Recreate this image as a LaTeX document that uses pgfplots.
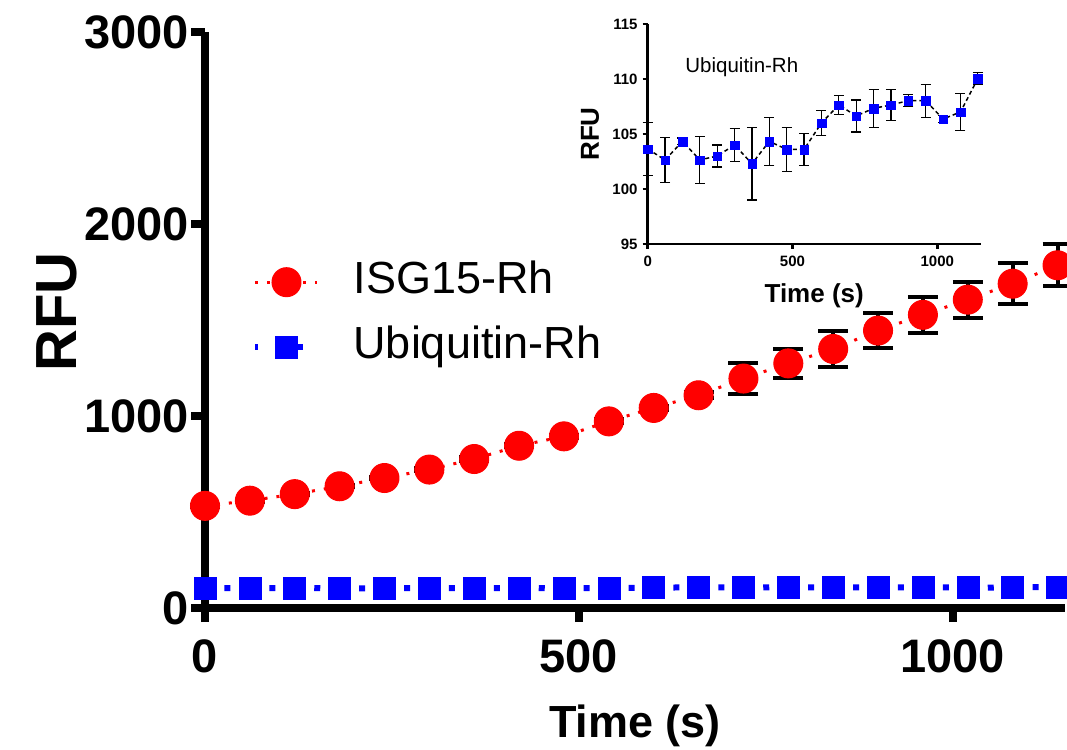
\documentclass[border=0pt]{standalone}
\usepackage{fontspec}
\setmainfont{Liberation Sans}
\usepackage{pgfplots}
\usepackage{pgfplotstable}
\pgfplotsset{compat=1.18}

\pgfplotstableread{
x y e
0 532 4
60 559 5
120 593 5
180 634 6
240 677 6
300 721 7
360 776 8
420 845 8
480 894 9
540 972 10
600 1042 12
660 1108 15
720 1195 79
780 1274 77
840 1349 92
900 1445 89
960 1527 94
1020 1606 94
1080 1689 106
1140 1785 109
}\isgdata

\pgfplotstableread{
x y e
0 103.64 2.4
60 102.64 2.05
120 104.33 0.3
180 102.64 2.15
240 103.0 1.0
300 104.0 1.5
360 102.3 3.3
420 104.33 2.2
480 103.6 2.0
540 103.6 1.45
600 106.0 1.17
660 107.64 0.88
720 106.64 1.45
780 107.33 1.74
840 107.64 1.42
900 108.03 0.53
960 108.03 1.5
1020 106.36 0.3
1080 107.0 1.7
1140 110.03 0.53
}\ubdata

\begin{document}
\begin{tikzpicture}
\path[use as bounding box] (0pt,0pt) rectangle (1067pt,749pt);
\begin{axis}[
  at={(205pt,141pt)}, anchor=south west, scale only axis,
  width=860pt, height=576pt,
  xmin=0, xmax=1150, ymin=0, ymax=3000, clip=false,
  axis x line*=bottom, axis y line*=left,
  axis line style={line width=8pt,-},
  xtick={0,500,1000}, ytick={0,1000,2000,3000},
  tick style={line width=8pt, black}, major tick length=14pt, tick align=outside,
  minor tick num=0,
  /pgf/number format/assume math mode=true, /pgf/number format/1000 sep={}, scaled ticks=false,
  ticklabel style={font=\bfseries\fontsize{47}{47}\selectfont, inner sep=1pt},
  xticklabel style={yshift=-16pt},
  yticklabel style={xshift=-1pt},
  xlabel={Time (s)}, ylabel={RFU},
  xlabel style={font=\bfseries\fontsize{45}{45}\selectfont, at={(axis description cs:0.5,-0.205)}, anchor=center},
  ylabel style={font=\bfseries\fontsize{58}{58}\selectfont, at={(axis description cs:-0.172,0.514)}, anchor=center},
  legend style={draw=none, fill=none, at={(axis description cs:0.055,0.6224)}, anchor=north west,
     inner sep=0pt, font=\fontsize{45}{45}\selectfont, row sep=0pt,
     nodes={inner xsep=15pt, inner ysep=11pt, text height=33pt, text depth=10pt}},
  legend cell align=left,
  legend image code/.code={\draw[mark repeat=2,mark phase=2,#1] plot coordinates {(0pt,0pt) (31pt,0pt) (62pt,0pt)}; \path (80pt,0pt);},
]
\addplot[color=red, line width=3pt, dash pattern=on 3pt off 9pt, mark=*, mark size=14.5pt,
  mark options={solid, fill=red, draw=red, line width=1pt},
  error bars/.cd, y dir=both, y explicit, error mark=|,
  error bar style={black, line width=4pt, solid},
  error mark options={black, mark size=15pt, line width=4pt}]
  table[x=x,y=y,y error=e]{\isgdata};
\addlegendentry{ISG15-Rh}
\addplot[color=blue, line width=6pt, dash pattern=on 6pt off 16.45pt, dash phase=3pt, mark=square*, mark size=11pt,
  mark options={solid, fill=blue, draw=blue, line width=0.5pt}]
  table[x=x,y=y]{\ubdata};
\addlegendentry{Ubiquitin-Rh}
\end{axis}

\begin{axis}[
  at={(647.7pt,505pt)}, anchor=south west, scale only axis,
  width=333pt, height=220pt,
  xmin=0, xmax=1150, ymin=95, ymax=115, clip=false,
  axis x line*=bottom, axis y line*=left,
  axis line style={line width=2.5pt,-},
  tick style={line width=2.5pt, black}, major tick length=5pt, tick align=outside,
  minor tick num=0,
  xtick={0,500,1000}, ytick={95,100,105,110,115},
  /pgf/number format/assume math mode=true, /pgf/number format/1000 sep={}, scaled ticks=false,
  ticklabel style={font=\bfseries\fontsize{15}{15}\selectfont, inner sep=1pt},
  xticklabel style={yshift=-6pt},
  yticklabel style={xshift=-4pt},
  xlabel={Time (s)}, ylabel={RFU},
  xlabel style={font=\bfseries\fontsize{26}{26}\selectfont, at={(axis description cs:0.5,-0.235)}, anchor=center},
  ylabel style={font=\bfseries\fontsize{26}{26}\selectfont, at={(axis description cs:-0.173,0.5)}, anchor=center},
]
\addplot[black, line width=1.5pt, dash pattern=on 4pt off 3pt, mark=square*, mark size=4.3pt,
  mark options={solid, fill=blue, draw=blue, line width=0.3pt},
  error bars/.cd, y dir=both, y explicit, error mark=|,
  error bar style={black, line width=1.2pt, solid},
  error mark options={black, mark size=5pt, line width=1.2pt}]
  table[x=x,y=y,y error=e]{\ubdata};
\node[anchor=west, font=\fontsize{20.5}{20.5}\selectfont] at (axis cs:118,111.1) {Ubiquitin-Rh};
\end{axis}
\end{tikzpicture}
\end{document}
